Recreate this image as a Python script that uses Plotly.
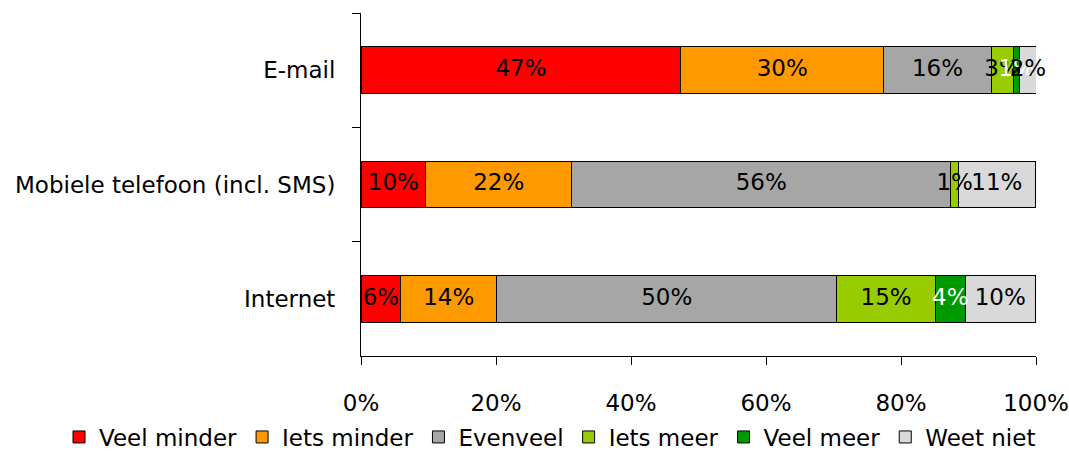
import plotly.graph_objects as go

categories = ["E-mail", "Mobiele telefoon (incl. SMS)", "Internet"]
series_names = ["Veel minder", "Iets minder", "Evenveel", "Iets meer", "Veel meer", "Weet niet"]
veel_minder = [47.4, 9.6, 5.9]
iets_minder = [30.0, 21.6, 14.2]
evenveel = [16.0, 56.2, 50.4]
iets_meer = [3.3, 1.1, 14.6]
veel_meer = [0.9, 0.0, 4.4]
weet_niet = [2.4, 11.4, 10.4]
x_ticks = [0, 20, 40, 60, 80, 100]

series_values = [veel_minder, iets_minder, evenveel, iets_meer, veel_meer, weet_niet]
colors = ["#FF0000", "#FF9900", "#A6A6A6", "#99CC00", "#009900", "#D9D9D9"]
text_colors = ["black", "black", "black", "black", "white", "black"]

FONT = "DejaVu Sans"
fig = go.Figure()
for name, vals, col in zip(series_names, series_values, colors):
    fig.add_trace(go.Bar(
        y=categories, x=vals, name=name, orientation="h",
        marker=dict(color=col, line=dict(color="black", width=1)),
        hoverinfo="x+name",
    ))

# segment labels, centred on each segment
base = [0.0] * len(categories)
for vals, tcol in zip(series_values, text_colors):
    xs, ys, ts = [], [], []
    for i, v in enumerate(vals):
        if v > 0:
            xs.append(base[i] + v / 2)
            ys.append(categories[i])
            ts.append(f"{v:.0f}%")
        base[i] += v
    fig.add_trace(go.Scatter(
        x=xs, y=ys, text=ts, mode="text", showlegend=False, cliponaxis=False,
        textposition="middle center",
        textfont=dict(color=tcol, size=23, family=FONT), hoverinfo="skip",
    ))

fig.update_layout(
    barmode="stack", bargap=0.59,
    width=1069, height=452,
    margin=dict(l=361, r=33, t=13, b=96, autoexpand=False),
    paper_bgcolor="white", plot_bgcolor="white",
    font=dict(family=FONT, size=23, color="black"),
    showlegend=True,
    legend=dict(orientation="h", x=(59 - 361) / 675, xanchor="left",
                y=(356 - 437) / 343, yanchor="middle",
                bgcolor="rgba(0,0,0,0)",
                font=dict(size=23, family=FONT), traceorder="normal",
                itemwidth=30, tracegroupgap=0),
)
fig.update_yaxes(
    autorange=False, range=[2.5, -0.5], automargin=False,
    showline=True, linecolor="black", linewidth=1,
    ticks="outside", ticklen=8, tickcolor="black", tickson="boundaries",
    ticklabelstandoff=20, showgrid=False, zeroline=False,
)
fig.update_xaxes(
    range=[0, 100], tickvals=x_ticks, ticktext=[f"{t}%" for t in x_ticks],
    automargin=False,
    showline=True, linecolor="black", linewidth=1,
    ticks="outside", ticklen=8, tickcolor="black",
    ticklabelstandoff=18, showgrid=False, zeroline=False,
)
fig.write_html("out.html", config={"displayModeBar": False},
               post_script="document.body.style.margin='0';")
